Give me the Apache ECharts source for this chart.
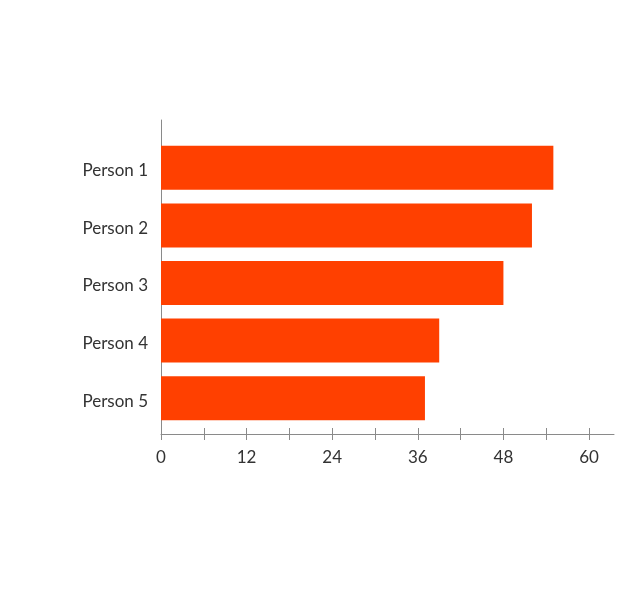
<!DOCTYPE html>
<html><head><meta charset="utf-8">
<script src="https://cdn.jsdelivr.net/npm/echarts@6/dist/echarts.min.js"></script>
<style>html,body{margin:0;padding:0;background:#fff}#c{width:640px;height:593px}</style>
</head><body><div id="c"></div>
<script>
var categories = ['Person 1', 'Person 2', 'Person 3', 'Person 4', 'Person 5'];
var values = [55, 52, 48, 39, 37];
var tickValues = [0, 6, 12, 18, 24, 30, 36, 42, 48, 54, 60];
var labelValues = [0, 12, 24, 36, 48, 60];
var xMax = 63.5;

var font = 'Lato, "Open Sans", sans-serif';
var axisColor = '#8a8a8a';
var chart = echarts.init(document.getElementById('c'), null, {renderer: 'canvas'});
chart.setOption({
  animation: false,
  grid: [
    {left: 161, right: 26, top: 139, bottom: 166},
    {left: 161, right: 26, top: 120, bottom: 159}
  ],
  xAxis: [
    {gridIndex: 0, type: 'value', min: 0, max: xMax, offset: 7,
     axisLine: {show: true, lineStyle: {color: axisColor, width: 1}},
     axisTick: {show: true, length: 6, customValues: tickValues, lineStyle: {color: axisColor}},
     axisLabel: {customValues: labelValues, color: '#333', fontFamily: font, fontSize: 17, margin: 15},
     splitLine: {show: false}},
    {gridIndex: 1, type: 'value', min: 0, max: xMax,
     axisLine: {show: false},
     axisTick: {show: true, inside: true, length: 6, customValues: tickValues, lineStyle: {color: axisColor}},
     axisLabel: {show: false}, splitLine: {show: false}}
  ],
  yAxis: [
    {gridIndex: 0, type: 'category', data: categories, inverse: true,
     axisLine: {show: false}, axisTick: {show: false},
     axisLabel: {color: '#333', fontFamily: font, fontSize: 17, margin: 13,
       formatter: function (v) { return '{a|' + v + '}'; },
       rich: {a: {color: '#333', fontFamily: font, fontSize: 17, padding: [6, 0, 0, 0]}}}},
    {gridIndex: 1, type: 'value', min: 0, max: 1,
     axisLine: {show: true, lineStyle: {color: axisColor, width: 1}},
     axisTick: {show: false}, axisLabel: {show: false}, splitLine: {show: false}}
  ],
  series: [{
    type: 'bar', xAxisIndex: 0, yAxisIndex: 0, data: values, barWidth: 44,
    itemStyle: {color: '#ff4000'}
  }]
});
</script></body></html>
